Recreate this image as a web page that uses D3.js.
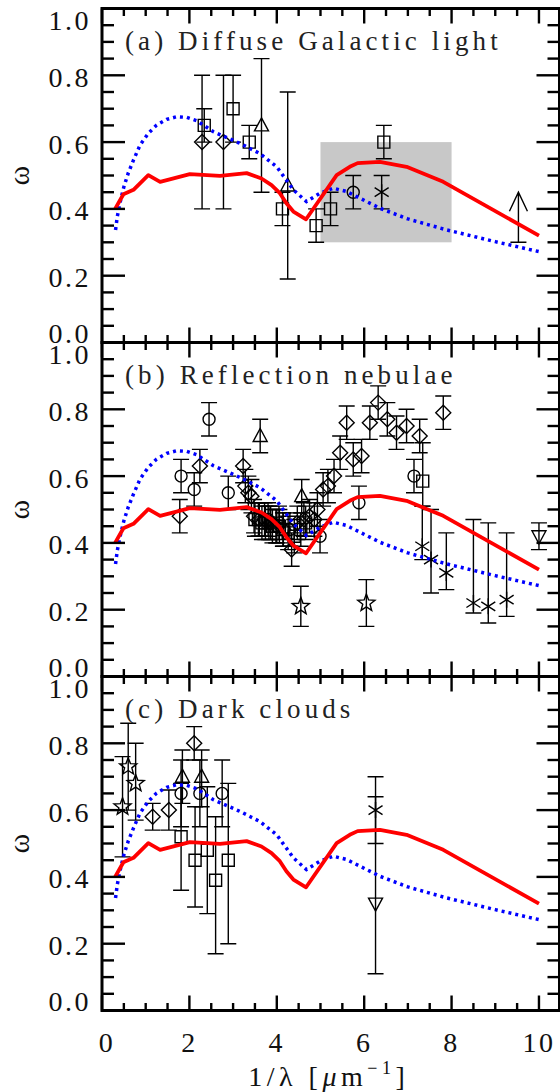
<!DOCTYPE html>
<html><head><meta charset="utf-8">
<script src="https://cdn.jsdelivr.net/npm/d3@7"></script>
<style>body{margin:0;background:#fff}svg{display:block}</style>
</head><body>
<svg id="chart" width="560" height="1092"></svg>
<script>
// ---------- data ----------
const xTickVals = [0, 2, 4, 6, 8, 10];
const yTickVals = [0.0, 0.2, 0.4, 0.6, 0.8, 1.0];
const panelTitles = ["(a) Diffuse Galactic light", "(b) Reflection nebulae", "(c) Dark clouds"];

// model curves (same in every panel)
const redX = [0.30, 0.49, 0.72, 1.06, 1.33, 2.01, 2.70, 3.31, 3.65, 3.88, 4.07, 4.22, 4.38, 4.67, 5.37, 5.67, 5.85, 6.36, 6.97, 7.81, 10.0];
const redY = [0.40, 0.444, 0.457, 0.501, 0.481, 0.504, 0.499, 0.507, 0.491, 0.471, 0.447, 0.417, 0.392, 0.369, 0.501, 0.526, 0.537, 0.541, 0.526, 0.481, 0.32];
const blueX = [0.31, 0.35, 0.41, 0.50, 0.60, 0.72, 0.87, 1.06, 1.25, 1.48, 1.71, 1.94, 2.17, 2.55, 3.16, 3.61, 4.00, 4.38, 4.68, 4.99, 5.29, 5.60, 6.36, 7.00, 7.89, 9.00, 10.0];
const blueY = [0.337, 0.377, 0.417, 0.466, 0.507, 0.546, 0.591, 0.626, 0.651, 0.668, 0.676, 0.674, 0.664, 0.631, 0.596, 0.566, 0.526, 0.457, 0.422, 0.447, 0.462, 0.452, 0.402, 0.370, 0.337, 0.302, 0.272];

// panel (a) Diffuse Galactic light: [x, y, low, high]
const aBox = [5.0, 8.0, 0.30, 0.60];
const aDiamond = [[2.29,0.60,0.40,0.80],[2.78,0.60,0.40,0.80]];
const aSquare = [[2.34,0.65,0.60,0.70],[3.00,0.70,0.60,0.80],[3.37,0.60,0.55,0.65],[4.13,0.40,0.35,0.45],[4.90,0.35,0.30,0.40],[5.23,0.40,0.35,0.45],[6.45,0.60,0.55,0.65]];
const aTriangle = [[3.65,0.65,0.45,0.85],[4.25,0.47,0.19,0.75]];
const aCircle = [[5.75,0.45,0.40,0.50]];
const aAsterisk = [[6.40,0.45,0.40,0.50]];
const aLowerLimit = [[9.53,0.30,0.45]];

// panel (b) Reflection nebulae
const bDiamond = [[1.78,0.48,0.43,0.53],[2.24,0.63,0.58,0.68],[3.23,0.63,0.58,0.68],[3.28,0.57,0.52,0.62],[3.35,0.55,0.50,0.60],[3.42,0.54,0.49,0.59],[3.48,0.48,0.43,0.53],[3.60,0.47,0.42,0.52],[3.72,0.47,0.42,0.52],[3.86,0.46,0.41,0.51],[4.00,0.45,0.40,0.50],[4.15,0.44,0.39,0.49],[4.34,0.38,0.33,0.43],[4.47,0.46,0.41,0.51],[4.62,0.47,0.42,0.52],[4.75,0.48,0.43,0.53],[4.86,0.47,0.42,0.52],[4.93,0.50,0.45,0.55],[5.06,0.56,0.51,0.61],[5.17,0.57,0.52,0.62],[5.31,0.60,0.55,0.65],[5.45,0.67,0.62,0.72],[5.60,0.76,0.71,0.81],[5.75,0.65,0.60,0.70],[5.94,0.66,0.61,0.71],[6.13,0.76,0.71,0.81],[6.32,0.82,0.77,0.87],[6.53,0.77,0.72,0.82],[6.74,0.73,0.68,0.78],[6.97,0.75,0.70,0.80],[7.27,0.72,0.67,0.77],[7.81,0.79,0.74,0.84]];
const bSquare = [[3.50,0.47,0.42,0.52],[3.58,0.47,0.42,0.52],[3.66,0.46,0.41,0.51],[3.74,0.46,0.41,0.51],[3.82,0.46,0.41,0.51],[3.90,0.45,0.40,0.50],[3.98,0.45,0.40,0.50],[4.06,0.45,0.40,0.50],[4.14,0.44,0.39,0.49],[4.26,0.43,0.38,0.48],[4.40,0.42,0.37,0.47],[4.55,0.44,0.39,0.49],[4.66,0.46,0.41,0.51],[7.34,0.585,0.51,0.70]];
const bCircle = [[1.81,0.60,0.55,0.65],[2.11,0.56,0.51,0.61],[2.45,0.77,0.72,0.82],[2.89,0.55,0.50,0.60],[3.80,0.47,0.42,0.52],[4.05,0.46,0.41,0.51],[4.30,0.44,0.39,0.49],[4.99,0.42,0.37,0.47],[5.88,0.52,0.47,0.57],[7.14,0.60,0.55,0.65]];
const bTriangle = [[3.62,0.72,0.67,0.77],[4.57,0.54,0.49,0.59]];
const bTriangleDown = [[10.0,0.42,0.38,0.46]];
const bStar = [[4.55,0.21,0.15,0.27],[6.05,0.22,0.15,0.29]];
const bAsterisk = [[7.33,0.39,0.35,0.51],[7.53,0.35,0.25,0.50],[7.88,0.31,0.26,0.43],[8.50,0.22,0.19,0.47],[8.84,0.21,0.16,0.46],[9.26,0.23,0.18,0.43]];

// panel (c) Dark clouds
const cStar = [[0.47,0.61,0.46,0.76],[0.60,0.73,0.60,0.86],[0.77,0.68,0.57,0.80]];
const cDiamond = [[1.16,0.58,0.54,0.62],[1.53,0.60,0.54,0.66],[2.11,0.80,0.75,0.85]];
const cTriangle = [[1.84,0.70,0.62,0.78],[2.28,0.70,0.61,0.78]];
const cCircle = [[1.81,0.65,0.55,0.75],[2.24,0.65,0.55,0.75],[2.75,0.65,0.55,0.75]];
const cSquare = [[1.81,0.52,0.36,0.68],[2.13,0.45,0.31,0.61],[2.41,0.48,0.29,0.67],[2.60,0.39,0.17,0.58],[2.89,0.45,0.20,0.68]];
const cAsterisk = [[6.26,0.60,0.50,0.70]];
const cTriangleDown = [[6.26,0.32,0.11,0.64]];

// ---------- layout ----------
const svg = d3.select("#chart");
const L = 102, R = 559.5, TOP = 8.5, PH = 334;
const FONT = "'Liberation Serif','Times New Roman',serif";
const x = d3.scaleLinear().domain([0, 10.47]).range([L, R]);

const panels = [
  {title: panelTitles[0], box: aBox, sets: [["diamond",aDiamond],["square",aSquare],["triangle",aTriangle],["circle",aCircle],["asterisk",aAsterisk]], limits: aLowerLimit},
  {title: panelTitles[1], sets: [["diamond",bDiamond],["square",bSquare],["circle",bCircle],["triangle",bTriangle],["triangleDown",bTriangleDown],["star",bStar],["asterisk",bAsterisk]]},
  {title: panelTitles[2], sets: [["star",cStar],["diamond",cDiamond],["triangle",cTriangle],["circle",cCircle],["square",cSquare],["asterisk",cAsterisk],["triangleDown",cTriangleDown]]}
];

function starPath(ro, ri) {
  let p = [];
  for (let k = 0; k < 10; k++) {
    const r = k % 2 ? ri : ro;
    const a = -Math.PI/2 + k*Math.PI/5;
    p.push([r*Math.cos(a), r*Math.sin(a)]);
  }
  return "M" + p.map(q => q.join(",")).join("L") + "Z";
}
const shapes = {
  square: "M-6,-6H6V6H-6Z",
  diamond: "M0,-7.5L7.5,0L0,7.5L-7.5,0Z",
  circle: "M6,0A6,6 0 1,1 -6,0A6,6 0 1,1 6,0Z",
  triangle: "M0,-7.5L7,5.5L-7,5.5Z",
  triangleDown: "M0,7.5L7,-5.5L-7,-5.5Z",
  star: starPath(9, 3.8),
  asterisk: "M0,-8V8M-7,-4.5L7,4.5M-7,4.5L7,-4.5"
};

panels.forEach((p, i) => {
  const y = d3.scaleLinear().domain([0, 1]).range([TOP + (i+1)*PH, TOP + i*PH]);
  const g = svg.append("g");

  if (p.box) {
    g.append("rect").attr("x", x(p.box[0])).attr("y", y(p.box[3]))
      .attr("width", x(p.box[1]) - x(p.box[0])).attr("height", y(p.box[2]) - y(p.box[3]))
      .attr("fill", "#c8c8c8");
  }

  // data points
  p.sets.forEach(([shape, data]) => {
    const sg = g.append("g").attr("stroke", "#000").attr("fill", "none").attr("stroke-width", 1.4);
    data.forEach(d => {
      const px = x(d[0]), yl = y(d[2]), yh = y(d[3]);
      sg.append("path").attr("d", `M${px},${yl}V${yh}M${px-8},${yl}H${px+8}M${px-8},${yh}H${px+8}`);
      sg.append("path").attr("d", shapes[shape]).attr("transform", `translate(${px},${y(d[1])})`);
    });
  });
  if (p.limits) {
    p.limits.forEach(d => {
      const px = x(d[0]), y0 = y(d[1]), y1 = y(d[2]);
      g.append("path").attr("stroke", "#000").attr("fill", "none").attr("stroke-width", 1.4)
        .attr("d", `M${px-8},${y0}H${px+8}M${px},${y0}V${y1}M${px-9},${y1+19}L${px},${y1}L${px+9},${y1+19}`);
    });
  }

  // model curves
  const line = d3.line().x(d => x(d[0])).y(d => y(d[1]));
  g.append("path").datum(blueX.map((v, k) => [v, blueY[k]])).attr("d", line)
    .attr("fill", "none").attr("stroke", "#0000ff").attr("stroke-width", 3.5).attr("stroke-dasharray", "3,4");
  g.append("path").datum(redX.map((v, k) => [v, redY[k]])).attr("d", line)
    .attr("fill", "none").attr("stroke", "#ff0000").attr("stroke-width", 3.8).attr("stroke-linejoin", "round");

  // frame
  g.append("rect").attr("x", L).attr("y", y(1)).attr("width", R - L).attr("height", y(0) - y(1))
    .attr("fill", "none").attr("stroke", "#000").attr("stroke-width", 3);

  // ticks
  const tg = g.append("g").attr("stroke", "#000").attr("stroke-width", 2.4);
  y.ticks(20).forEach(v => {
    const major = yTickVals.some(t => Math.abs(t - v) < 1e-6);
    const len = major ? 23 : 12;
    tg.append("line").attr("x1", L).attr("x2", L + len).attr("y1", y(v)).attr("y2", y(v));
    tg.append("line").attr("x1", R).attr("x2", R - len).attr("y1", y(v)).attr("y2", y(v));
  });
  x.ticks(20).forEach(v => {
    const major = xTickVals.some(t => Math.abs(t - v) < 1e-6);
    const len = major ? 15 : 7.5;
    tg.append("line").attr("x1", x(v)).attr("x2", x(v)).attr("y1", y(0)).attr("y2", y(0) - len);
    tg.append("line").attr("x1", x(v)).attr("x2", x(v)).attr("y1", y(1)).attr("y2", y(1) + len);
  });

  // y tick labels
  yTickVals.forEach(v => {
    const dy = v === 1 ? 21 : (v === 0 ? 0 : 11.5);
    g.append("text").attr("x", 91).attr("y", y(v) + dy).attr("text-anchor", "end")
      .attr("font-family", FONT).attr("font-size", 28).attr("letter-spacing", 2.5)
      .attr("fill", "#111").text(d3.format(".1f")(v));
  });

  // y axis title
  g.append("text").attr("transform", `translate(18,${(y(0) + y(1))/2}) rotate(-90)`)
    .attr("text-anchor", "middle").attr("dominant-baseline", "central")
    .attr("font-family", FONT).attr("font-size", 30).attr("fill", "#111").text("ω");

  // panel title
  g.append("text").attr("x", 125).attr("y", y(1) + 41)
    .attr("font-family", FONT).attr("font-size", 27).attr("letter-spacing", 4.1)
    .attr("fill", "#222").text(p.title);

  if (i === 2) {
    xTickVals.forEach(v => {
      g.append("text").attr("x", x(v) + (v === 0 ? 5 : 0)).attr("y", 1051.5).attr("text-anchor", "middle")
        .attr("font-family", FONT).attr("font-size", 28).attr("letter-spacing", 2.5)
        .attr("fill", "#111").text(v);
    });
    const t = g.append("text").attr("x", (L + R)/2 - 2).attr("y", 1086).attr("text-anchor", "middle")
      .attr("font-family", FONT).attr("font-size", 28).attr("letter-spacing", 4.5).attr("fill", "#111");
    t.append("tspan").text("1/λ [");
    t.append("tspan").attr("font-style", "italic").text("μ");
    t.append("tspan").text("m");
    t.append("tspan").attr("font-size", 18).attr("dy", -12).text("−1");
    t.append("tspan").attr("dy", 12).text("]");
  }
});
</script>
</body></html>
